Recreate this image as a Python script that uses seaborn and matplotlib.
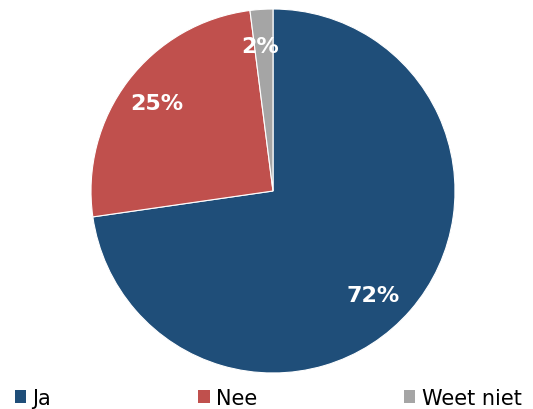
import matplotlib
matplotlib.use("Agg")
import matplotlib.pyplot as plt
import seaborn as sns
from matplotlib.patches import Patch

categories = ["Ja", "Nee", "Weet niet"]
values = [72, 25, 2]
colors = ["#1F4E79", "#C0504D", "#A5A5A5"]

sns.set_style("white")
plt.rcParams['font.family'] = ['DejaVu Sans']

palette = sns.color_palette(colors)

fig = plt.figure(figsize=(5.33, 4.10), dpi=100)
ax = fig.add_axes([91/533, 36/410, 364/533, 364/410])
wedges, texts, autotexts = ax.pie(
    values, colors=palette, startangle=90, counterclock=False,
    autopct="%.0f%%", pctdistance=0.8,
    wedgeprops=dict(edgecolor="white", linewidth=0.8),
    textprops=dict(color="white", fontsize=16, fontweight="bold"),
    radius=1.0)
for t, v in zip(autotexts, values):
    t.set_text(f"{v}%")
x0, y0 = autotexts[0].get_position()
autotexts[0].set_position((x0 - 0.055, y0 - 0.05))
x2, y2 = autotexts[2].get_position()
autotexts[2].set_position((x2 - 0.02, y2))
ax.set_xlim(-1, 1)
ax.set_ylim(-1, 1)
ax.set_aspect("equal")

handles = [Patch(facecolor=c, edgecolor="none") for c in palette]
fig.legend(handles, categories, loc="lower left", bbox_to_anchor=(0.012, -0.017),
           ncol=3, frameon=False, fontsize=15, handlelength=0.55, handleheight=0.55,
           handletextpad=0.3, columnspacing=7.05, borderaxespad=0, labelcolor="black")

fig.savefig("out.png", dpi=100)
